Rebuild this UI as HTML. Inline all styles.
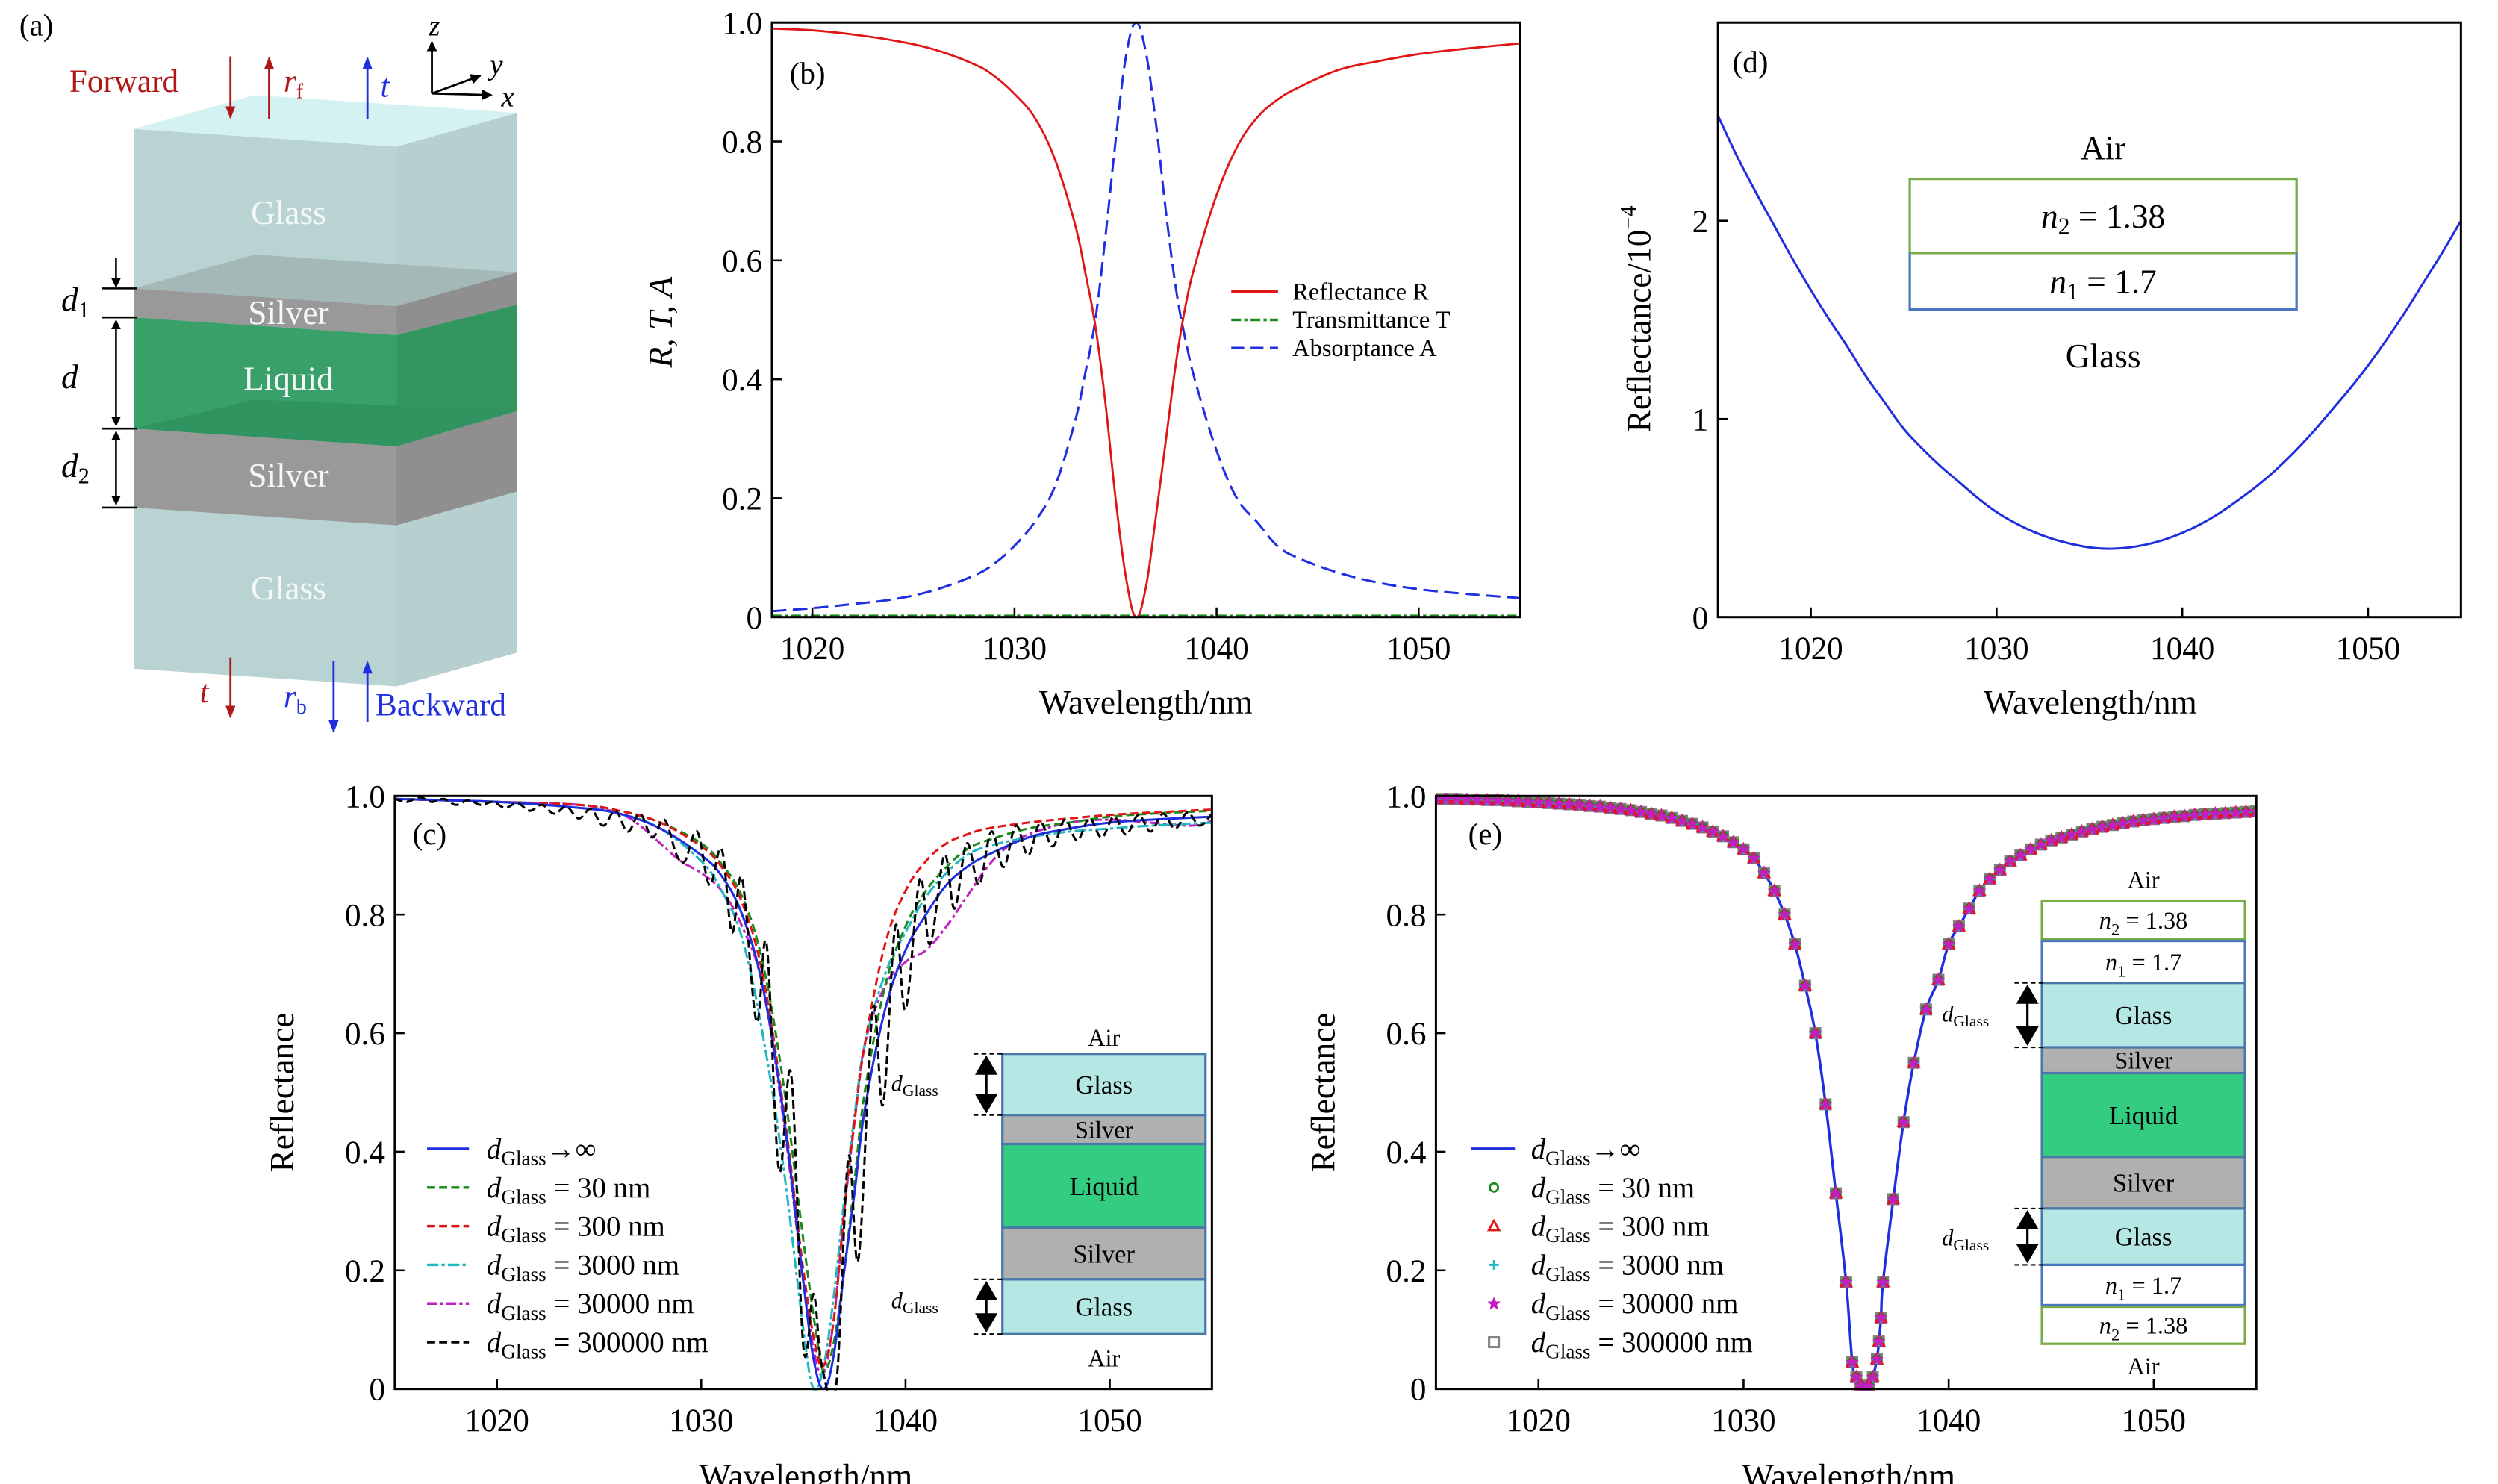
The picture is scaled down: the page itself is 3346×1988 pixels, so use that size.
<!DOCTYPE html>
<html><head><meta charset="utf-8"><style>
html,body{margin:0;padding:0;background:#fff;}
svg{display:block;font-family:"Liberation Serif",serif;}
</style></head><body>
<svg id="fig" width="3346" height="1988" viewBox="0 0 1550 921" preserveAspectRatio="none" xmlns="http://www.w3.org/2000/svg">
<defs>
<marker id="ah" viewBox="0 0 10 10" refX="9" refY="5" markerWidth="6" markerHeight="6" orient="auto-start-reverse"><path d="M0,1 L10,5 L0,9 z" fill="context-stroke"/></marker>
<marker id="ahb" viewBox="0 0 10 10" refX="9" refY="5" markerWidth="5" markerHeight="5" orient="auto-start-reverse"><path d="M0,0 L10,5 L0,10 z" fill="#000"/></marker>
</defs>

<!-- Panel (a) -->
<g>
<text x="12" y="22" font-size="19">(a)</text>
<polygon points="246,91 321,70 321,405 246,426" fill="#b7cfcf"/>
<polygon points="246,190 321,169 321,189 246,208" fill="#8f8f8f"/>
<polygon points="246,208 321,189 321,255 246,277" fill="#33965f"/>
<polygon points="246,277 321,255 321,305 246,326" fill="#8f8f8f"/>
<polygon points="83,80 246,91 246,426 83,415" fill="#b9d3d3"/>
<polygon points="83,179 246,190 246,208 83,197" fill="#999999"/>
<polygon points="83,197 246,208 246,277 83,266" fill="#3aa06a"/>
<polygon points="83,266 246,277 246,326 83,315" fill="#999999"/>
<polygon points="83,179 246,190 321,169 158,158" fill="#a4b8b8"/>
<polygon points="83,266 246,277 321,255 158,248" fill="#2f9460"/>
<polygon points="83,80 246,91 321,70 158,59" fill="#d4f2f2"/>
<g fill="#f4f8f8" font-size="21" text-anchor="middle">
<text x="179" y="139">Glass</text>
<text x="179" y="201">Silver</text>
<text x="179" y="242">Liquid</text>
<text x="179" y="302">Silver</text>
<text x="179" y="372">Glass</text>
</g>
<g stroke="#000" stroke-width="1.2">
<line x1="63" y1="179" x2="85" y2="179"/><line x1="63" y1="197" x2="85" y2="197"/>
<line x1="63" y1="266" x2="85" y2="266"/><line x1="63" y1="315" x2="85" y2="315"/>
<line x1="72" y1="160" x2="72" y2="178" marker-end="url(#ahb)"/>
<line x1="72" y1="199" x2="72" y2="264" marker-start="url(#ahb)" marker-end="url(#ahb)"/>
<line x1="72" y1="268" x2="72" y2="313" marker-start="url(#ahb)" marker-end="url(#ahb)"/>
</g>
<g font-size="21" font-style="italic">
<text x="38" y="193">d<tspan font-size="14" font-style="normal" dy="4">1</tspan></text>
<text x="38" y="241">d</text>
<text x="38" y="296">d<tspan font-size="14" font-style="normal" dy="4">2</tspan></text>
</g>
<text x="43" y="57" font-size="20" fill="#b01818">Forward</text>
<line x1="143" y1="35" x2="143" y2="73" stroke="#b01818" stroke-width="1.3" marker-end="url(#ah)"/>
<line x1="167" y1="74" x2="167" y2="36" stroke="#b01818" stroke-width="1.3" marker-end="url(#ah)"/>
<text x="176" y="57" font-size="20" font-style="italic" fill="#b01818">r<tspan font-size="13" font-style="normal" dy="4">f</tspan></text>
<line x1="228" y1="74" x2="228" y2="36" stroke="#1f2fe0" stroke-width="1.3" marker-end="url(#ah)"/>
<text x="236" y="60" font-size="20" font-style="italic" fill="#1f2fe0">t</text>
<g stroke="#000" stroke-width="1.3">
<line x1="268" y1="58" x2="268" y2="26" marker-end="url(#ahb)"/>
<line x1="268" y1="58" x2="298" y2="47" marker-end="url(#ahb)"/>
<line x1="268" y1="58" x2="305" y2="59" marker-end="url(#ahb)"/>
</g>
<g font-size="18" font-style="italic">
<text x="266" y="22">z</text>
<text x="304" y="46">y</text>
<text x="311" y="66">x</text>
</g>
<text x="124" y="436" font-size="20" font-style="italic" fill="#b01818">t</text>
<line x1="143" y1="408" x2="143" y2="445" stroke="#b01818" stroke-width="1.3" marker-end="url(#ah)"/>
<text x="176" y="439" font-size="20" font-style="italic" fill="#1f2fe0">r<tspan font-size="13" font-style="normal" dy="4">b</tspan></text>
<line x1="207" y1="410" x2="207" y2="454" stroke="#1f2fe0" stroke-width="1.3" marker-end="url(#ah)"/>
<line x1="228" y1="448" x2="228" y2="411" stroke="#1f2fe0" stroke-width="1.3" marker-end="url(#ah)"/>
<text x="233" y="444" font-size="20" fill="#1f2fe0">Backward</text>
</g>

<g id="pb"></g>
<g id="pd"></g>
<g id="pc"></g>
<g id="pe"></g>
</svg>
<script>
// ---------- Data: panel (b) ----------
const bWl = [1018,1020,1022,1024,1026,1028,1029,1030,1031,1032,1033,1033.5,1034,1034.5,1035,1035.5,1036,1036.5,1037,1037.5,1038,1038.5,1039,1040,1041,1042,1043,1044,1046,1048,1050,1052,1055];
const bR = [.99,.987,.98,.97,.955,.93,.91,.88,.84,.77,.66,.58,.49,.36,.2,.07,0,.05,.17,.3,.43,.53,.6,.71,.79,.84,.87,.89,.92,.935,.947,.955,.965];
const bT = [.002,.002,.002,.002,.002,.002,.002,.002,.002,.002,.002,.002,.002,.002,.002,.002,.002,.002,.002,.002,.002,.002,.002,.002,.002,.002,.002,.002,.002,.002,.002,.002,.002];
const bA = [.01,.015,.022,.03,.045,.07,.09,.12,.16,.22,.33,.41,.5,.64,.8,.94,1.0,.95,.83,.68,.55,.46,.39,.28,.2,.16,.12,.1,.075,.058,.047,.04,.032];
const bYTicks = [0,0.2,0.4,0.6,0.8,1.0];
const bYTickLabels = ["0","0.2","0.4","0.6","0.8","1.0"];
const xTicks = [1020,1030,1040,1050];
const xTickLabels = ["1020","1030","1040","1050"];
// ---------- Data: panel (d) ----------
const dWl = [1015,1016,1017,1018,1019,1020,1021,1022,1023,1024,1025,1026,1027,1028,1029,1030,1031,1032,1033,1034,1035,1036,1037,1038,1039,1040,1041,1042,1043,1044,1045,1046,1047,1048,1049,1050,1051,1052,1053,1054,1055];
const dR = [2.53,2.33,2.15,1.98,1.81,1.65,1.5,1.36,1.21,1.08,.95,.85,.76,.68,.6,.53,.475,.43,.395,.37,.352,.345,.35,.365,.39,.425,.47,.525,.59,.66,.74,.83,.93,1.04,1.15,1.27,1.4,1.54,1.69,1.84,2.0];
const dYTicks = [0,1,2];
const dYTickLabels = ["0","1","2"];
// ---------- Data: panel (c) ----------
const cInfWl = [1015,1020,1024,1026,1028,1030,1031,1032,1033,1034,1035,1035.5,1036,1036.5,1037,1037.5,1038,1039,1040,1041,1042,1043,1044,1046,1048,1050,1052,1055];
const cInfR = [.995,.99,.98,.97,.945,.9,.865,.8,.68,.47,.18,.05,0,.06,.2,.33,.47,.64,.74,.8,.85,.88,.9,.93,.945,.955,.96,.965];
const c30Wl = [1015,1020,1024,1026,1028,1030,1031,1032,1033,1034,1035,1035.6,1036,1036.5,1037,1037.5,1038,1039,1040,1041,1042,1043,1044,1046,1048,1050,1052,1055];
const c30R = [.995,.99,.985,.975,.955,.92,.885,.83,.72,.52,.25,.1,.03,.08,.2,.35,.5,.68,.78,.84,.88,.91,.925,.945,.955,.965,.97,.975];
const c300Wl = [1015,1020,1024,1026,1028,1030,1031,1032,1033,1034,1035,1035.6,1036,1036.5,1037,1037.5,1038,1039,1040,1041,1042,1043,1044,1046,1048,1050,1052,1055];
const c300R = [.995,.99,.985,.975,.955,.915,.88,.82,.7,.48,.2,.07,.04,.12,.3,.45,.58,.75,.84,.89,.92,.935,.945,.955,.962,.968,.972,.977];
const c3000Wl = [1015,1020,1024,1026,1028,1030,1031,1032,1033,1034,1035,1035.5,1036,1036.5,1037,1037.5,1038,1039,1040,1041,1042,1043,1044,1046,1048,1050,1052,1055];
const c3000R = [.995,.99,.98,.97,.945,.89,.84,.76,.6,.38,.1,0,.04,.16,.32,.46,.58,.7,.77,.83,.87,.9,.915,.93,.94,.945,.95,.955];
const c30000Wl = [1015,1020,1024,1026,1027,1028,1029,1030,1031,1032,1033,1034,1035,1035.6,1036,1036.5,1037,1037.5,1038,1039,1040,1041,1042,1043,1044,1045,1046,1048,1050,1052,1054,1055];
const c30000R = [.995,.99,.985,.97,.95,.92,.89,.87,.84,.78,.68,.46,.18,.05,.03,.12,.3,.45,.58,.68,.72,.74,.78,.83,.88,.915,.935,.955,.96,.955,.95,.958];
const c300000Wl = [1015,1015.6,1016.2,1016.8,1017.4,1018,1018.6,1019.2,1019.8,1020.4,1021,1021.6,1022.2,1022.8,1023.4,1024,1024.6,1025.2,1025.8,1026.4,1027,1027.6,1028.2,1028.8,1029.2,1029.8,1030.4,1031,1031.5,1032,1032.7,1033.2,1033.8,1034.4,1035,1035.5,1035.9,1036.6,1037.2,1037.7,1038.4,1038.9,1039.5,1040,1040.7,1041.2,1041.9,1042.4,1043,1043.6,1044.2,1044.8,1045.4,1046,1046.6,1047.2,1047.8,1048.4,1049,1049.6,1050.2,1050.8,1051.4,1052,1052.6,1053.2,1053.8,1054.4,1055];
const c300000R = [.995,.99,.998,.99,.995,.985,.993,.985,.99,.98,.988,.975,.985,.97,.982,.962,.978,.95,.975,.94,.97,.93,.96,.9,.89,.94,.85,.91,.77,.86,.62,.75,.37,.53,.07,.16,.04,.005,.39,.22,.64,.48,.78,.64,.86,.75,.9,.81,.92,.85,.94,.88,.95,.9,.955,.915,.96,.925,.962,.93,.965,.935,.968,.94,.97,.945,.972,.95,.97];
const cYTicks = [0,0.2,0.4,0.6,0.8,1.0];
const cYTickLabels = ["0","0.2","0.4","0.6","0.8","1.0"];
// ---------- Data: panel (e) ----------
const eWl = [1015,1015.5,1016,1016.5,1017,1017.5,1018,1018.5,1019,1019.5,1020,1020.5,1021,1021.5,1022,1022.5,1023,1023.5,1024,1024.5,1025,1025.5,1026,1026.5,1027,1027.5,1028,1028.5,1029,1029.5,1030,1030.5,1031,1031.5,1032,1032.5,1033,1033.5,1034,1034.5,1035,1035.3,1035.5,1035.7,1035.9,1036.1,1036.3,1036.5,1036.6,1036.7,1036.8,1037.3,1037.8,1038.3,1038.9,1039.5,1040,1040.5,1041,1041.5,1042,1042.5,1043,1043.5,1044,1044.5,1045,1045.5,1046,1046.5,1047,1047.5,1048,1048.5,1049,1049.5,1050,1050.5,1051,1051.5,1052,1052.5,1053,1053.5,1054,1054.5,1055];
const eR = [.995,.995,.995,.994,.994,.993,.993,.992,.991,.99,.989,.988,.987,.986,.985,.983,.982,.98,.978,.976,.973,.97,.967,.963,.958,.953,.947,.94,.932,.922,.91,.895,.87,.84,.8,.75,.68,.6,.48,.33,.18,.045,.02,.006,0,.005,.02,.05,.08,.12,.18,.32,.45,.55,.64,.69,.75,.78,.81,.84,.86,.875,.89,.9,.91,.918,.925,.93,.935,.94,.944,.948,.951,.954,.957,.959,.961,.963,.965,.966,.968,.969,.97,.971,.972,.973,.974];

const NS = "http://www.w3.org/2000/svg";
function mk(parent, tag, attrs, text){
  const el = document.createElementNS(NS, tag);
  for (const k in attrs) el.setAttribute(k, attrs[k]);
  if (text !== undefined) el.textContent = text;
  parent.appendChild(el);
  return el;
}
function smoothPath(pts){
  if (pts.length < 2) return "";
  let d = "M" + pts[0][0].toFixed(2) + "," + pts[0][1].toFixed(2);
  for (let i = 0; i < pts.length - 1; i++){
    const p0 = pts[i-1] || pts[i], p1 = pts[i], p2 = pts[i+1], p3 = pts[i+2] || p2;
    const t = 0.18;
    const c1 = [p1[0] + (p2[0]-p0[0])*t, p1[1] + (p2[1]-p0[1])*t];
    const c2 = [p2[0] - (p3[0]-p1[0])*t, p2[1] - (p3[1]-p1[1])*t];
    d += " C" + c1[0].toFixed(2) + "," + c1[1].toFixed(2) + " " + c2[0].toFixed(2) + "," + c2[1].toFixed(2) + " " + p2[0].toFixed(2) + "," + p2[1].toFixed(2);
  }
  return d;
}
function makeAxes(g, c){
  const sx = v => c.x0 + (v - c.xmin) / (c.xmax - c.xmin) * (c.x1 - c.x0);
  const sy = v => c.y1 - (v - c.ymin) / (c.ymax - c.ymin) * (c.y1 - c.y0);
  const cid = "clip" + c.id;
  const defs = mk(g, "defs", {});
  const cp = mk(defs, "clipPath", {id: cid});
  mk(cp, "rect", {x: c.x0, y: c.y0 - 2, width: c.x1 - c.x0, height: c.y1 - c.y0 + 3});
  const plot = mk(g, "g", {"clip-path": "url(#" + cid + ")"});
  
  
  return {sx, sy, plot};
}
function drawFrame(g, c, ax, yT, yL){
  const frame = mk(g, "rect", {x: c.x0, y: c.y0, width: c.x1 - c.x0, height: c.y1 - c.y0, fill: "none", stroke: "#000", "stroke-width": 1.4});
  
  
  xTicks.forEach((v, i) => {
    const x = ax.sx(v);
    const t = mk(g, "line", {x1: x, x2: x, y1: c.y1, y2: c.y1 - 6, stroke: "#000", "stroke-width": 1.2});
    
    
    const l = mk(g, "text", {x: x, y: c.y1 + 26, "font-size": 20, "text-anchor": "middle"}, xTickLabels[i]);
    
    
  });
  yT.forEach((v, i) => {
    const y = ax.sy(v);
    const t = mk(g, "line", {x1: c.x0, x2: c.x0 + 6, y1: y, y2: y, stroke: "#000", "stroke-width": 1.2});
    
    
    const l = mk(g, "text", {x: c.x0 - 6, y: y + 7, "font-size": 20, "text-anchor": "end"}, yL[i]);
    
    
  });
}
function line(ax, xs, ys, color, dash, width, name){
  const pts = xs.map((x, i) => [ax.sx(x), ax.sy(ys[i])]);
  const p = mk(ax.plot, "path", {d: smoothPath(pts), fill: "none", stroke: color, "stroke-width": width || 1.4, "stroke-dasharray": dash || "none"});
  
  
  return p;
}
function label(g, x, y, txt, size, extra){
  const a = Object.assign({x: x, y: y, "font-size": size}, extra || {});
  return mk(g, "text", a, txt);
}
function dGlassText(g, x, y, suffix, size, name){
  const t = mk(g, "text", {x: x, y: y, "font-size": size});
  
  
  mk(t, "tspan", {"font-style": "italic"}, "d");
  mk(t, "tspan", {"font-size": size * 0.7, dy: 4}, "Glass");
  mk(t, "tspan", {dy: -4}, suffix);
  return t;
}
function layerBox(g, x, y, w, h, fill, stroke, txt, size, name, italic){
  const r = mk(g, "rect", {x: x, y: y, width: w, height: h, fill: fill, stroke: stroke, "stroke-width": 1.5});
  
  
  if (txt){
    const t = mk(g, "text", {x: x + w/2, y: y + h/2 + size*0.35, "font-size": size, "text-anchor": "middle"});
    
    
    if (italic){
      mk(t, "tspan", {"font-style": "italic"}, "n");
      mk(t, "tspan", {"font-size": size * 0.7, dy: 4}, italic[0]);
      mk(t, "tspan", {dy: -4}, " = " + italic[1]);
    } else t.textContent = txt;
  }
}
function dArrow(g, x, yA, yB, name){
  const a = mk(g, "g", {});
  
  
  mk(a, "line", {x1: x - 8, x2: x + 10, y1: yA, y2: yA, stroke: "#000", "stroke-width": 1, "stroke-dasharray": "3,2"});
  mk(a, "line", {x1: x - 8, x2: x + 10, y1: yB, y2: yB, stroke: "#000", "stroke-width": 1, "stroke-dasharray": "3,2"});
  mk(a, "line", {x1: x, x2: x, y1: yA + 12, y2: yB - 12, stroke: "#000", "stroke-width": 1.5});
  mk(a, "polygon", {points: `${x-7},${yA+13} ${x+7},${yA+13} ${x},${yA+1}`, fill: "#000"});
  mk(a, "polygon", {points: `${x-7},${yB-13} ${x+7},${yB-13} ${x},${yB-1}`, fill: "#000"});
}

// ----- Panel (b) -----
(function(){
  const g = document.getElementById("pb");
  const c = {id: "panel-b", x0: 479, x1: 943, y0: 14, y1: 383, xmin: 1018, xmax: 1055, ymin: 0, ymax: 1};
  const ax = makeAxes(g, c);
  line(ax, bWl, bT, "#1a8a1a", "6,2,2,2", 1.6, "transmittance-line");
  line(ax, bWl, bA, "#1f2fe0", "9,4", 1.4, "absorptance-line");
  line(ax, bWl, bR, "#e01515", null, 1.3, "reflectance-line");
  drawFrame(g, c, ax, bYTicks, bYTickLabels);
  const pl = label(g, 490, 52, "(b)", 19);  
  const yt = label(g, 0, 0, "R, T, A", 21, {"font-style": "italic", "text-anchor": "middle", transform: "translate(417,200) rotate(-90)"});
   
  const xt = label(g, 711, 443, "Wavelength/nm", 21, {"text-anchor": "middle"});
   
  const leg = [["Reflectance R", "#e01515", "none"], ["Transmittance T", "#1a8a1a", "6,2,2,2"], ["Absorptance A", "#1f2fe0", "8,4"]];
  leg.forEach((e, i) => {
    const y = 181 + i * 17.5;
    const le = mk(g, "g", {});
    
    
    mk(le, "line", {x1: 764, x2: 793, y1: y, y2: y, stroke: e[1], "stroke-width": 1.6, "stroke-dasharray": e[2]});
    mk(le, "text", {x: 802, y: y + 5, "font-size": 15}, e[0]);
  });
})();

// ----- Panel (d) -----
(function(){
  const g = document.getElementById("pd");
  const c = {id: "panel-d", x0: 1066, x1: 1527, y0: 14, y1: 383, xmin: 1015, xmax: 1055, ymin: 0, ymax: 3};
  const ax = makeAxes(g, c);
  line(ax, dWl, dR, "#1f2fe0", null, 1.4, "reflectance-curve");
  drawFrame(g, c, ax, dYTicks, dYTickLabels);
  const pl = label(g, 1075, 45, "(d)", 19);  
  const yt = mk(g, "text", {"font-size": 21, "text-anchor": "middle", transform: "translate(1024,198) rotate(-90)"});
   
  yt.textContent = "Reflectance/10";
  mk(yt, "tspan", {"font-size": 14, dy: -9}, "−4");
  const xt = label(g, 1297, 443, "Wavelength/nm", 21, {"text-anchor": "middle"});
   
  const a1 = label(g, 1305, 99, "Air", 21, {"text-anchor": "middle"});  
  layerBox(g, 1185, 111, 240, 46, "#fff", "#77ac48", "n2", 21, "inset-n2-layer", ["2", "1.38"]);
  layerBox(g, 1185, 157, 240, 35, "#fff", "#4a78c0", "n1", 21, "inset-n1-layer", ["1", "1.7"]);
  mk(g, "line", {x1: 1185, x2: 1425, y1: 157, y2: 157, stroke: "#77ac48", "stroke-width": 1.5});
  const gl = label(g, 1305, 228, "Glass", 21, {"text-anchor": "middle"});  
})();

// ----- Panel (c) -----
(function(){
  const g = document.getElementById("pc");
  const c = {id: "panel-c", x0: 245, x1: 752, y0: 494, y1: 862, xmin: 1015, xmax: 1055, ymin: 0, ymax: 1};
  const ax = makeAxes(g, c);
  line(ax, c30000Wl, c30000R, "#c020c0", "6,2,2,2", 1.4, "dglass-30000nm-line");
  line(ax, c3000Wl, c3000R, "#20b8c0", "7,2,2,2", 1.4, "dglass-3000nm-line");
  line(ax, c30Wl, c30R, "#1a8a1a", "5,2.5", 1.4, "dglass-30nm-line");
  line(ax, c300Wl, c300R, "#e01515", "5,2.5", 1.4, "dglass-300nm-line");
  line(ax, cInfWl, cInfR, "#1f2fe0", null, 1.4, "dglass-infinity-line");
  line(ax, c300000Wl, c300000R, "#000", "5,2.5", 1.4, "dglass-300000nm-line");
  drawFrame(g, c, ax, cYTicks, cYTickLabels);
  const pl = label(g, 256, 524, "(c)", 19);  
  const yt = label(g, 0, 0, "Reflectance", 21, {"text-anchor": "middle", transform: "translate(182,678) rotate(-90)"});
   
  const xt = label(g, 500, 923, "Wavelength/nm", 21, {"text-anchor": "middle"});
   
  const leg = [["→∞", "#1f2fe0", "none"], [" = 30 nm", "#1a8a1a", "5,2.5"], [" = 300 nm", "#e01515", "5,2.5"], [" = 3000 nm", "#20b8c0", "7,2,2,2"], [" = 30000 nm", "#c020c0", "6,2,2,2"], [" = 300000 nm", "#000", "5,2.5"]];
  leg.forEach((e, i) => {
    const y = 713 + i * 24;
    const ln = mk(g, "line", {x1: 265, x2: 291, y1: y, y2: y, stroke: e[1], "stroke-width": 1.6, "stroke-dasharray": e[2]});
    
    
    dGlassText(g, 302, y + 6, e[0], 18, 'legend-entry');
  });
  const a1 = label(g, 685, 649, "Air", 15, {"text-anchor": "middle"});  
  layerBox(g, 622, 654, 126, 38, "#b5e8e4", "#4a78a8", "Glass", 16, "inset-glass-top");
  layerBox(g, 622, 692, 126, 18, "#b0b0b0", "#4a78a8", "Silver", 15, "inset-silver-top");
  layerBox(g, 622, 710, 126, 52, "#33cc80", "#4a78a8", "Liquid", 16, "inset-liquid");
  layerBox(g, 622, 762, 126, 32, "#b0b0b0", "#4a78a8", "Silver", 16, "inset-silver-bottom");
  layerBox(g, 622, 794, 126, 34, "#b5e8e4", "#4a78a8", "Glass", 16, "inset-glass-bottom");
  const a2 = label(g, 685, 848, "Air", 15, {"text-anchor": "middle"});  
  dArrow(g, 612, 654, 692, 'inset-dglass-arrow-top');
  dArrow(g, 612, 794, 828, 'inset-dglass-arrow-bottom');
  const d1 = mk(g, "text", {x: 553, y: 677, "font-size": 14});
   
  mk(d1, "tspan", {"font-style": "italic"}, "d"); mk(d1, "tspan", {"font-size": 10, dy: 3}, "Glass");
  const d2 = mk(g, "text", {x: 553, y: 812, "font-size": 14});
   
  mk(d2, "tspan", {"font-style": "italic"}, "d"); mk(d2, "tspan", {"font-size": 10, dy: 3}, "Glass");
})();

// ----- Panel (e) -----
function marker(g, type, x, y){
  let el;
  if (type === "circle") el = mk(g, "circle", {cx: x, cy: y, r: 2.6, fill: "none", stroke: "#1a8a1a", "stroke-width": 1.3});
  else if (type === "triangle") el = mk(g, "polygon", {points: `${x},${y-3.3} ${x+3.2},${y+2.5} ${x-3.2},${y+2.5}`, fill: "none", stroke: "#e01515", "stroke-width": 1.3});
  else if (type === "plus") el = mk(g, "path", {d: `M${x-3},${y}H${x+3}M${x},${y-3}V${y+3}`, stroke: "#20b8c0", "stroke-width": 1.3});
  else if (type === "star") el = mk(g, "polygon", {points: `${x},${y-3.5} ${x+1},${y-1} ${x+3.3},${y-1} ${x+1.5},${y+0.7} ${x+2.2},${y+3.2} ${x},${y+1.7} ${x-2.2},${y+3.2} ${x-1.5},${y+0.7} ${x-3.3},${y-1} ${x-1},${y-1}`, fill: "#c020c0", stroke: "#c020c0", "stroke-width": 0.6});
  else el = mk(g, "rect", {x: x - 3, y: y - 3, width: 6, height: 6, fill: "none", stroke: "#808080", "stroke-width": 1.4});
  return el;
}
(function(){
  const g = document.getElementById("pe");
  const c = {id: "panel-e", x0: 891, x1: 1400, y0: 494, y1: 862, xmin: 1015, xmax: 1055, ymin: 0, ymax: 1};
  const ax = makeAxes(g, c);
  line(ax, eWl, eR, "#1f2fe0", null, 1.6, "dglass-infinity-line");
  const types = ["square", "circle", "triangle", "plus", "star"];
  const names = ["dglass-300000nm-marker", "dglass-30nm-marker", "dglass-300nm-marker", "dglass-3000nm-marker", "dglass-30000nm-marker"];
  types.forEach((tp, k) => {
    const sg = mk(ax.plot, "g", {});
    
    
    eWl.forEach((w, i) => {
      const m = marker(sg, tp, ax.sx(w), ax.sy(eR[i]));
      
      
    });
  });
  drawFrame(g, c, ax, cYTicks, cYTickLabels);
  const pl = label(g, 911, 524, "(e)", 19);  
  const yt = label(g, 0, 0, "Reflectance", 21, {"text-anchor": "middle", transform: "translate(828,678) rotate(-90)"});
   
  const xt = label(g, 1147, 923, "Wavelength/nm", 21, {"text-anchor": "middle"});
   
  const ll = mk(g, "line", {x1: 913, x2: 940, y1: 713, y2: 713, stroke: "#1f2fe0", "stroke-width": 1.8});
   
  dGlassText(g, 950, 719, "→∞", 18, 'legend-entry');
  const legT = ["circle", "triangle", "plus", "star", "square"];
  const legS = [" = 30 nm", " = 300 nm", " = 3000 nm", " = 30000 nm", " = 300000 nm"];
  legT.forEach((tp, i) => {
    const y = 737 + i * 24;
    const m = marker(g, tp, 927, y);
    
    
    dGlassText(g, 950, y + 6, legS[i], 18, 'legend-entry');
  });
  const a1 = label(g, 1330, 551, "Air", 15, {"text-anchor": "middle"});  
  layerBox(g, 1267, 559, 126, 24, "#fff", "#77ac48", "n2", 15, "inset-n2-top", ["2", "1.38"]);
  layerBox(g, 1267, 584, 126, 26, "#fff", "#4a78c0", "n1", 15, "inset-n1-top", ["1", "1.7"]);
  layerBox(g, 1267, 610, 126, 40, "#b5e8e4", "#4a78a8", "Glass", 16, "inset-glass-top");
  layerBox(g, 1267, 650, 126, 16, "#b0b0b0", "#4a78a8", "Silver", 15, "inset-silver-top");
  layerBox(g, 1267, 666, 126, 52, "#33cc80", "#4a78a8", "Liquid", 16, "inset-liquid");
  layerBox(g, 1267, 718, 126, 32, "#b0b0b0", "#4a78a8", "Silver", 16, "inset-silver-bottom");
  layerBox(g, 1267, 750, 126, 35, "#b5e8e4", "#4a78a8", "Glass", 16, "inset-glass-bottom");
  layerBox(g, 1267, 785, 126, 25, "#fff", "#4a78c0", "n1", 15, "inset-n1-bottom", ["1", "1.7"]);
  layerBox(g, 1267, 811, 126, 23, "#fff", "#77ac48", "n2", 15, "inset-n2-bottom", ["2", "1.38"]);
  const a2 = label(g, 1330, 853, "Air", 15, {"text-anchor": "middle"});  
  dArrow(g, 1258, 610, 650, 'inset-dglass-arrow-top');
  dArrow(g, 1258, 750, 785, 'inset-dglass-arrow-bottom');
  const d1 = mk(g, "text", {x: 1205, y: 634, "font-size": 14});
   
  mk(d1, "tspan", {"font-style": "italic"}, "d"); mk(d1, "tspan", {"font-size": 10, dy: 3}, "Glass");
  const d2 = mk(g, "text", {x: 1205, y: 773, "font-size": 14});
   
  mk(d2, "tspan", {"font-style": "italic"}, "d"); mk(d2, "tspan", {"font-size": 10, dy: 3}, "Glass");
})();
</script>
</body></html>
